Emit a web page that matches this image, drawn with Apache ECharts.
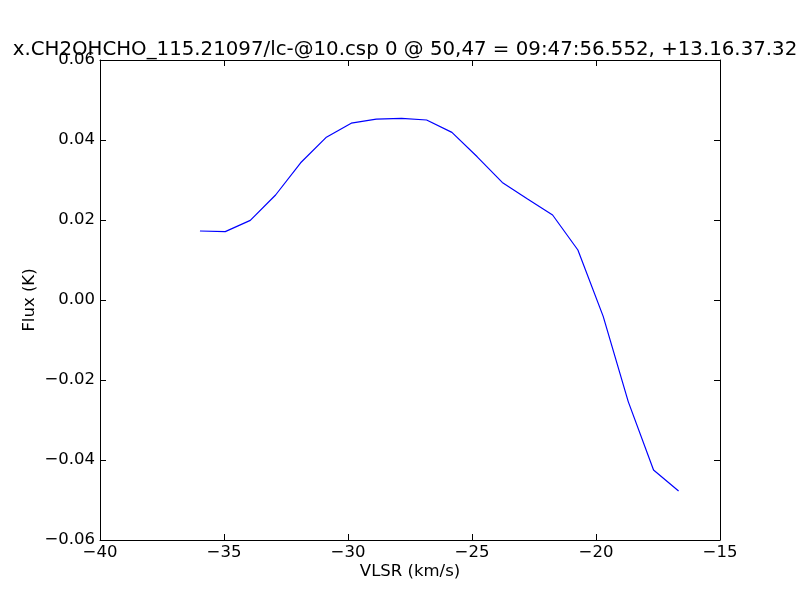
<!DOCTYPE html>
<html>
<head>
<meta charset="utf-8">
<script src="https://cdn.jsdelivr.net/npm/echarts@6/dist/echarts.min.js"></script>
<style>html,body{margin:0;padding:0;background:#fff;}#c{width:800px;height:600px;}</style>
</head>
<body>
<div id="c"></div>
<script>
var velocity = [-35.97, -34.95, -33.94, -32.92, -31.91, -30.89, -29.87, -28.86, -27.84, -26.83, -25.81, -24.79, -23.78, -22.76, -21.75, -20.73, -19.71, -18.70, -17.68, -16.67];
var flux = [0.01725, 0.0171, 0.0199, 0.02625, 0.0343, 0.0406, 0.0442, 0.0452, 0.0454, 0.0450, 0.0419, 0.0358, 0.0294, 0.02525, 0.02125, 0.0125, -0.0041, -0.0254, -0.0425, -0.04775];
var titleText = 'x.CH2OHCHO_115.21097/lc-@10.csp 0 @ 50,47 = 09:47:56.552, +13.16.37.32';
var xName = 'VLSR (km/s)';
var yName = 'Flux (K)';

var font = 'DejaVu Sans';
function minus(s){ return String(s).replace('-', '\u2212'); }
var data = velocity.map(function(v,i){ return [v, flux[i]]; });

var chart = echarts.init(document.getElementById('c'), null, {renderer:'canvas'});
var axisLine = {show:true, onZero:false, lineStyle:{color:'#000', width:1}};
var tick = {show:true, inside:true, length:6, lineStyle:{color:'#000', width:1}};
chart.setOption({
  animation:false,
  backgroundColor:'#fff',
  title:{text:titleText, left:400, top:35, textAlign:'center',
    textStyle:{fontFamily:font, fontSize:19.8, fontWeight:'normal', color:'#000'}},
  grid:{left:100, right:80, top:60, bottom:60, containLabel:false},
  xAxis:[{
    type:'value', min:-40, max:-15, interval:5, position:'bottom',
    axisLine:axisLine, axisTick:tick, splitLine:{show:false},
    axisLabel:{fontFamily:font, fontSize:16.5, color:'#000', margin:4, formatter:function(v){return minus(v);}},
    name:xName, nameLocation:'middle', nameGap:23, nameMoveOverlap:false,
    nameTextStyle:{fontFamily:font, fontSize:16.5, color:'#000'}
  },{
    type:'value', min:-40, max:-15, interval:5, position:'top',
    axisLine:axisLine, axisTick:tick, axisLabel:{show:false}, splitLine:{show:false}
  }],
  yAxis:[{
    type:'value', min:-0.06, max:0.06, interval:0.02, position:'left',
    axisLine:axisLine, axisTick:tick, splitLine:{show:false},
    axisLabel:{fontFamily:font, fontSize:16.5, color:'#000', margin:5, formatter:function(v){return minus(v.toFixed(2));}},
    name:yName, nameLocation:'middle', nameGap:62, nameRotate:90, nameMoveOverlap:false,
    nameTextStyle:{fontFamily:font, fontSize:16.5, color:'#000'}
  },{
    type:'value', min:-0.06, max:0.06, interval:0.02, position:'right',
    axisLine:axisLine, axisTick:tick, axisLabel:{show:false}, splitLine:{show:false}
  }],
  series:[{
    type:'line', data:data, xAxisIndex:0, yAxisIndex:0,
    showSymbol:false, symbol:'none',
    lineStyle:{color:'#0000ff', width:1.2}
  }]
});
</script>
</body>
</html>
